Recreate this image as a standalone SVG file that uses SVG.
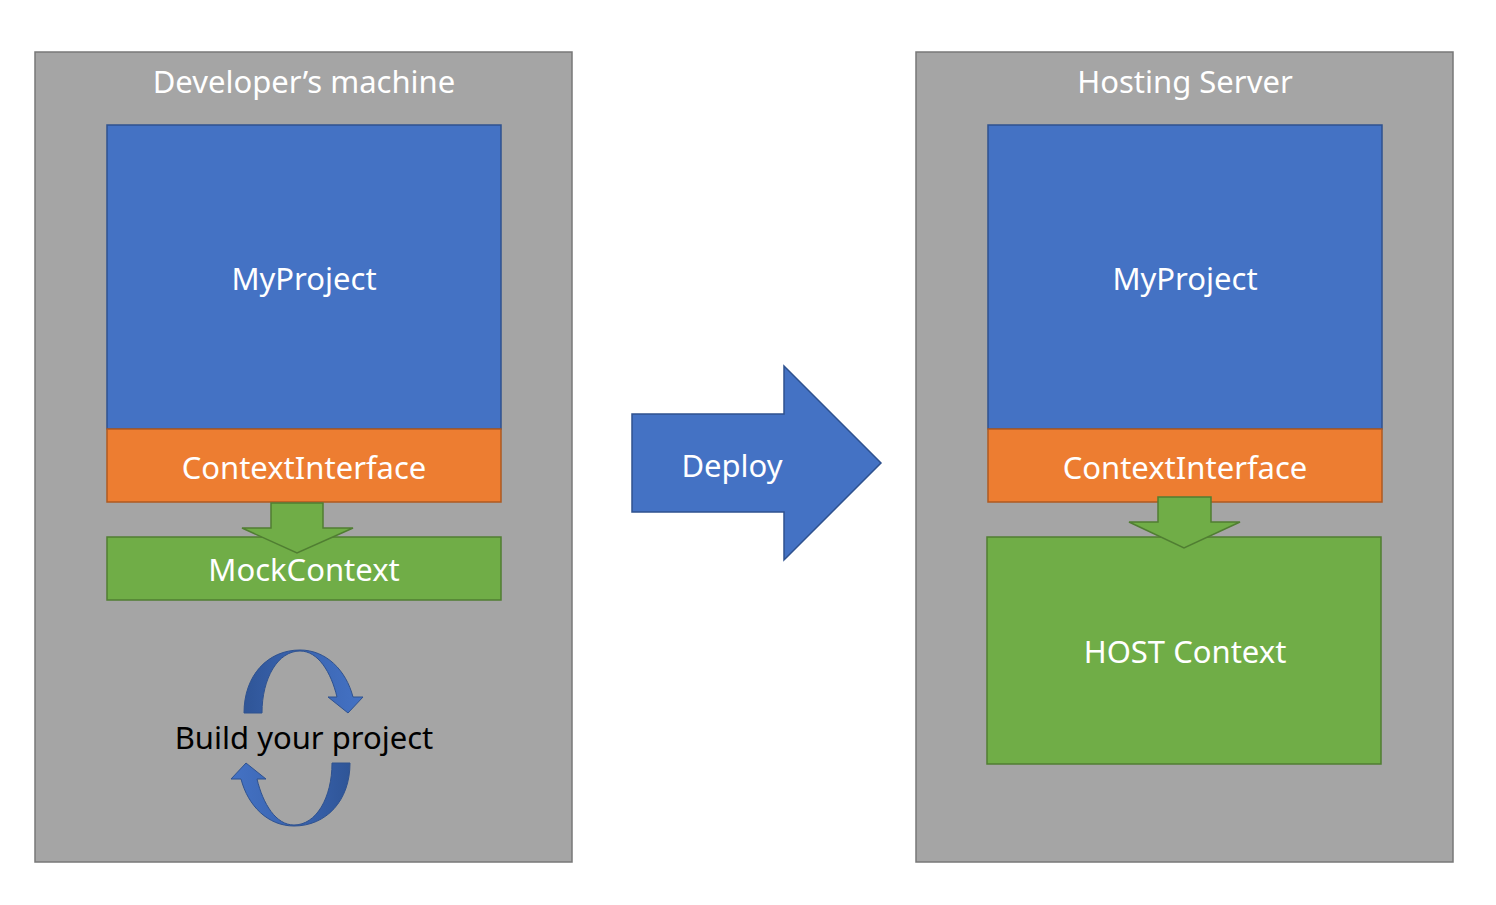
<svg xmlns="http://www.w3.org/2000/svg" width="1496" height="905" viewBox="0 0 1496 905">
<defs>
<style>
.box{fill:#a5a5a5;stroke:#787878;stroke-width:1.5}
.proj{fill:#4472c4;stroke:#2f528f;stroke-width:1.5}
.ci{fill:#ed7d31;stroke:#ae5a21;stroke-width:1.5}
.ctx{fill:#70ad47;stroke:#507e32;stroke-width:1.5}
.w{fill:#ffffff;font-family:"Noto Sans","Open Sans",sans-serif;font-size:31px;text-anchor:middle}
.b{fill:#000000;font-family:"Noto Sans","Open Sans",sans-serif;font-size:31px;text-anchor:middle}
</style>
<linearGradient id="cg" x1="0" y1="0" x2="1" y2="0">
<stop offset="0" stop-color="#2f5597"/>
<stop offset="0.45" stop-color="#3a64b0"/>
<stop offset="1" stop-color="#4472c4"/>
</linearGradient>
</defs>
<rect width="1496" height="905" fill="#ffffff"/>
<g id="dev-machine">
<rect class="box" x="35" y="52" width="537" height="810"/>
<text class="w" x="304" y="93">Developer’s machine</text>
</g>
<g id="host-server">
<rect class="box" x="916" y="52" width="537" height="810"/>
<text class="w" x="1185" y="93">Hosting Server</text>
</g>
<g id="dev-myproject">
<rect class="proj" x="107" y="125" width="394" height="304"/>
<text class="w" x="304" y="290">MyProject</text>
</g>
<g id="dev-contextinterface">
<rect class="ci" x="107" y="429" width="394" height="73"/>
<text class="w" x="304" y="479">ContextInterface</text>
</g>
<g id="dev-mockcontext">
<rect class="ctx" x="107" y="537" width="394" height="63"/>
</g>
<g id="host-myproject">
<rect class="proj" x="988" y="125" width="394" height="304"/>
<text class="w" x="1185" y="290">MyProject</text>
</g>
<g id="host-contextinterface">
<rect class="ci" x="988" y="429" width="394" height="73"/>
<text class="w" x="1185" y="479">ContextInterface</text>
</g>
<g id="host-hostcontext">
<rect class="ctx" x="987" y="537" width="394" height="227"/>
<text class="w" x="1185" y="663">HOST Context</text>
</g>
<g id="connectors">
<path class="ctx" d="M271 503 L323 503 L323 528 L353 528 L297 553 L242 528 L271 528 Z"/>
<path class="ctx" d="M1158 497 L1211 497 L1211 522 L1240 522 L1184 548 L1129 522 L1158 522 Z"/>
<path class="proj" d="M632 414 L784 414 L784 366 L881 463 L784 560 L784 512 L632 512 Z"/>
<text class="w" x="732" y="477">Deploy</text>
</g>
<g id="dev-mockcontext-label">
<text class="w" x="304" y="581">MockContext</text>
</g>
<g id="build-cycle">
<path fill="url(#cg)" stroke="#2f528f" stroke-width="1" d="M244 713 C244 675 268 650 300 650 C326 650 346 670 353 697 L363 697 L348 713 L328 697 L337 697 C331 672 318 651 300 651 C278 651 262 678 262 713 Z"/>
<path fill="url(#cg)" stroke="#2f528f" stroke-width="1" transform="rotate(180 297 738)" d="M244 713 C244 675 268 650 300 650 C326 650 346 670 353 697 L363 697 L348 713 L328 697 L337 697 C331 672 318 651 300 651 C278 651 262 678 262 713 Z"/>
<text class="b" x="304" y="749">Build your project</text>
</g>
</svg>
